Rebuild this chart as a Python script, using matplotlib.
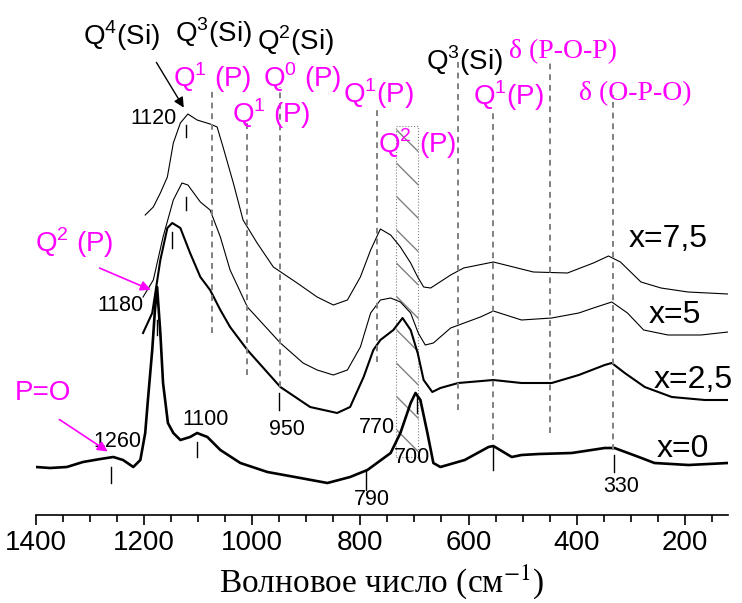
import numpy as np
import matplotlib
matplotlib.use('Agg')
import matplotlib.pyplot as plt
from matplotlib.patches import Rectangle

plt.rcParams['font.family'] = ['Liberation Sans', 'DejaVu Sans']
plt.rcParams['mathtext.fontset'] = 'custom'
plt.rcParams['mathtext.rm'] = 'Liberation Sans'
plt.rcParams['hatch.color'] = '#808080'
plt.rcParams['hatch.linewidth'] = 1.0

# spectra (wavenumber, intensity in arb. units)
w_x0 = [1400, 1374, 1343, 1313, 1281, 1257, 1239, 1220, 1207, 1198, 1193, 1185, 1180, 1176, 1170,
        1165, 1156, 1146, 1133, 1115, 1102, 1083, 1059, 1022, 972, 911, 861, 819, 787, 744,
        726, 707, 698, 689, 676, 665, 652, 607, 563, 554, 520, 502, 470, 409, 348,
        330, 285, 256, 193, 120]
i_x0 = [48, 47, 48, 53, 56, 58, 55, 48, 55, 82, 115, 165, 205, 228, 182,
        132, 92, 82, 75, 78, 82, 78, 65, 52, 43, 37, 32, 38, 45, 62,
        82, 112, 122, 115, 82, 52, 48, 55, 68, 69, 58, 60, 61, 62, 67,
        67, 58, 52, 50, 52]

w_x25 = [1202, 1185, 1170, 1157, 1148, 1133, 1115, 1096, 1078, 1059, 1041, 1009, 948, 893, 843,
         819, 794, 776, 763, 739, 722, 707, 694, 683, 667, 652, 619, 554, 502, 446,
         396, 348, 335, 311, 274, 224, 163, 119]
i_x25 = [182, 202, 255, 287, 292, 287, 262, 238, 225, 205, 188, 165, 128, 108, 102,
         108, 138, 165, 175, 185, 197, 185, 162, 135, 123, 127, 132, 135, 132, 132,
         140, 150, 152, 142, 128, 118, 115, 115]

w_x5 = [1202, 1183, 1165, 1146, 1130, 1119, 1096, 1078, 1059, 1041, 1009, 948, 906, 880, 850,
        824, 800, 781, 763, 744, 726, 707, 693, 680, 665, 633, 578, 554, 502, 446,
        396, 369, 335, 306, 276, 231, 170, 120]
i_x5 = [218, 235, 278, 315, 332, 330, 313, 305, 278, 245, 208, 172, 152, 145, 140,
        145, 168, 202, 215, 217, 213, 202, 182, 170, 172, 187, 198, 204, 195, 197,
        202, 207, 213, 202, 185, 180, 180, 183]

w_x75 = [1198, 1183, 1170, 1157, 1146, 1133, 1119, 1102, 1078, 1065, 1054, 1035, 1017, 991, 961,
         917, 880, 850, 824, 800, 781, 763, 744, 726, 707, 694, 683, 670, 633, 609,
         554, 480, 417, 369, 341, 319, 281, 244, 194, 120]
i_x75 = [300, 308, 322, 338, 372, 392, 401, 395, 391, 388, 368, 332, 295, 272, 248,
         232, 218, 210, 215, 238, 265, 286, 280, 268, 252, 238, 228, 227, 240, 247,
         253, 243, 242, 252, 259, 253, 233, 227, 223, 221]

series_names = ['x=0', 'x=2,5', 'x=5', 'x=7,5']
series_lw = [1.9, 1.5, 0.8, 0.8]

# band assignments: dashed lines (wavenumber, top, bottom)
band_pos = [1074, 1010, 948, 770, 619, 554, 450, 332]
band_top = [428, 393, 428, 405, 455, 405, 455, 420]
band_bot = [182, 140, 128, 153, 105, 75, 82, 65]

# small peak marks (wavenumber, top, bottom)
mark_pos = [1122, 1122, 1148, 1176, 1102, 1261, 789, 696, 950, 554, 330]
mark_top = [390, 318, 283, 195, 73, 48, 45, 118, 122, 68, 60]
mark_bot = [378, 305, 267, 180, 58, 32, 25, 102, 105, 45, 43]

# peak numbers (text, x, y, alignment)
peak_txt = ['1120', '1180', '1100', '1260', '950', '770', '700', '790', '330']
peak_x = [1139, 1202, 1087, 1250, 935, 769, 704, 778, 317]
peak_y = [391, 204, 90, 68, 80, 82, 52, 10, 23]
peak_ha = ['right', 'right', 'center', 'center', 'center', 'center', 'center', 'center', 'center']

fig = plt.figure(figsize=(7.42, 6.03), dpi=100)
ax = fig.add_axes([36 / 742, 88 / 603, 692 / 742, 515 / 603])

for w, i, lw in zip([w_x0, w_x25, w_x5, w_x75], [i_x0, i_x25, i_x5, i_x75], series_lw):
    ax.plot(w, i, color='black', lw=lw)

for x, t, b in zip(band_pos, band_top, band_bot):
    ax.plot([x, x], [b, t], color='#808080', lw=1.4, ls=(0, (3, 2.5)))

for x, t, b in zip(mark_pos, mark_top, mark_bot):
    ax.plot([x, x], [b, t], color='black', lw=1.0)

# Q2(P) hatched band
ax.add_patch(Rectangle((735, 58), -41, 331, fill=False, hatch='\\', edgecolor='#808080',
                       lw=0.8, ls=':'))

for t, x, y, ha in zip(peak_txt, peak_x, peak_y, peak_ha):
    ax.text(x, y, t, fontsize=15.5, ha=ha, va='baseline')

# black Si labels
ax.text(1313, 470, r'$\mathrm{Q}^4$(Si)', fontsize=20, va='baseline')
ax.text(1143, 473, r'$\mathrm{Q}^3$(Si)', fontsize=20, va='baseline')
ax.text(991, 465, r'$\mathrm{Q}^2$(Si)', fontsize=20, va='baseline')
ax.text(678, 445, r'$\mathrm{Q}^3$(Si)', fontsize=20, va='baseline')

# magenta P labels
pink = '#FF00FF'
ax.text(1146, 428, r'$\mathrm{Q}^1$ (P)', fontsize=20, color=pink, va='baseline')
ax.text(1037, 392, r'$\mathrm{Q}^1$ (P)', fontsize=20, color=pink, va='baseline')
ax.text(980, 428, r'$\mathrm{Q}^0$ (P)', fontsize=20, color=pink, va='baseline')
ax.text(833, 412, r'$\mathrm{Q}^1$(P)', fontsize=20, color=pink, va='baseline')
ax.text(767, 362, r'$\mathrm{Q}^2$ (P)', fontsize=20, color=pink, va='baseline')
ax.text(591, 410, r'$\mathrm{Q}^1$(P)', fontsize=20, color=pink, va='baseline')
ax.text(1402, 263, r'$\mathrm{Q}^2$ (P)', fontsize=20, color=pink, va='baseline')
ax.text(1439, 115, 'P=O', fontsize=20, color=pink, va='baseline')
ax.text(526, 457, 'δ (P-O-P)', fontsize=20, color=pink, va='baseline', family='Liberation Serif')
ax.text(396, 415, 'δ (O-P-O)', fontsize=20, color=pink, va='baseline', family='Liberation Serif')

# sample names
for name, x, y in zip(series_names, [252, 257, 267, 304], [58, 127, 192, 268]):
    ax.text(x, y, name, fontsize=23, va='baseline')

ax.annotate('', xy=(1124, 405), xytext=(1180, 455),
            arrowprops=dict(arrowstyle='-|>', color='black', lw=1.0, mutation_scale=15))
ax.annotate('', xy=(1183, 224), xytext=(1287, 248),
            arrowprops=dict(arrowstyle='-|>', color=pink, lw=1.2, mutation_scale=15))
ax.annotate('', xy=(1263, 62), xytext=(1361, 97),
            arrowprops=dict(arrowstyle='-|>', color=pink, lw=1.2, mutation_scale=15))

ax.set_xlim(1400, 120)
ax.set_ylim(0, 515)
for s in ['left', 'right', 'top']:
    ax.spines[s].set_visible(False)
ax.spines['bottom'].set_linewidth(1.2)
ax.set_yticks([])
ax.set_xticks([1400, 1200, 1000, 800, 600, 400, 200])
ax.set_xticks(np.arange(150, 1400, 50), minor=True)
ax.tick_params(axis='x', which='major', length=7, width=1.2, labelsize=20, pad=4)
ax.tick_params(axis='x', which='minor', length=5, width=1.2)
ax.patch.set_alpha(0)

fig.text(382 / 742, 1 - 592 / 603, 'Волновое число (см$^{-1}$)', fontsize=24,
         family='Liberation Serif', math_fontfamily='stix', ha='center', va='baseline')

plt.savefig('out.png', dpi=100)
